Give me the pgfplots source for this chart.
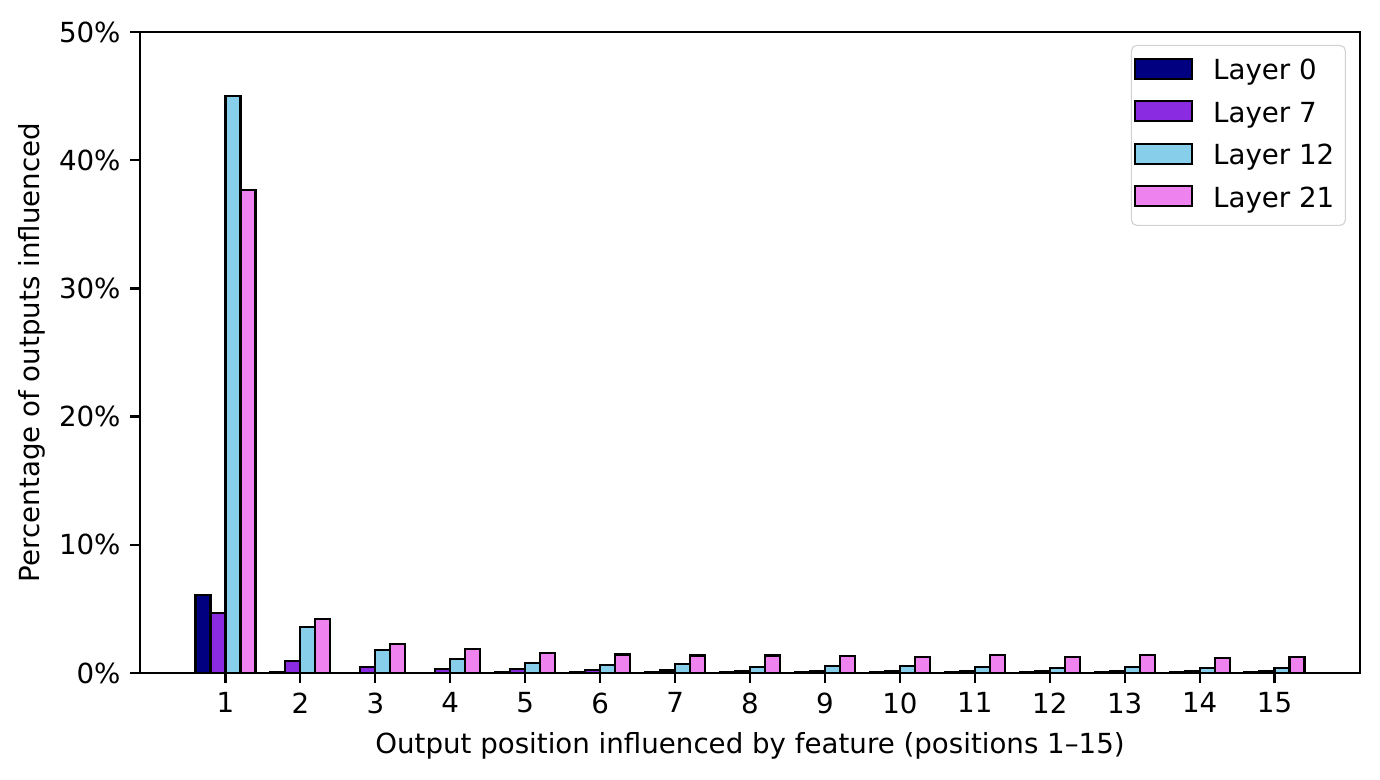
\documentclass[border=0pt]{standalone}
\usepackage{pgfplots}
\pgfplotsset{compat=1.18}
\usepackage{fontspec}
\setmainfont{DejaVu Sans}
\definecolor{lay0}{RGB}{0,0,128}
\definecolor{lay7}{RGB}{138,43,226}
\definecolor{lay12}{RGB}{135,206,235}
\definecolor{lay21}{RGB}{238,130,238}

\begin{document}
\begin{tikzpicture}
\begin{axis}[
  width=6.1in, height=3.205in,
  scale only axis,
  ybar=0pt,
  bar width=0.2,
  xmin=-0.14, xmax=16.14,
  ymin=0, ymax=50,
  xtick={1,2,...,15},
  ytick={0,10,...,50},
  yticklabel={\pgfmathprintnumber{\tick}\%},
  /pgf/number format/assume math mode=true,
  tick align=outside,
  major tick length=3.5pt,
  tick style={black, line width=0.8pt},
  xtick pos=bottom, ytick pos=left,
  axis line style={line width=0.8pt},
  ticklabel style={font=\fontsize{10}{12}\selectfont},
  label style={font=\fontsize{10}{12}\selectfont},
  xlabel={Output position influenced by feature (positions 1–15)},
  ylabel={Percentage of outputs influenced},
  ylabel style={yshift=-2pt},
  every axis plot/.append style={draw=black, line width=0.8pt},
  legend cell align=left,
  legend style={
    at={(0.9885,0.98)}, anchor=north east,
    draw=black!18, rounded corners=2pt,
    font=\fontsize{10}{12}\selectfont,
    row sep=2.5pt, inner xsep=1pt, inner ysep=3pt,
    nodes={inner xsep=3pt},
  },
  legend image code/.code={\draw[#1, sharp corners] (0cm,-0.09cm) rectangle (0.724cm,0.164cm);
    \path (0.87cm,0);},
]
\addplot[fill=lay0] coordinates {
 (1,6.1) (2,0.05) (3,0.03) (4,0.03) (5,0.05) (6,0.05) (7,0.04) (8,0.04)
 (9,0.04) (10,0.04) (11,0.05) (12,0.04) (13,0.04) (14,0.04) (15,0.04)};
\addlegendentry{Layer 0}
\addplot[fill=lay7] coordinates {
 (1,4.7) (2,0.94) (3,0.47) (4,0.3) (5,0.3) (6,0.25) (7,0.2) (8,0.18)
 (9,0.18) (10,0.18) (11,0.18) (12,0.18) (13,0.18) (14,0.12) (15,0.18)};
\addlegendentry{Layer 7}
\addplot[fill=lay12] coordinates {
 (1,45.0) (2,3.56) (3,1.77) (4,1.12) (5,0.78) (6,0.6) (7,0.7) (8,0.45)
 (9,0.55) (10,0.55) (11,0.45) (12,0.38) (13,0.45) (14,0.38) (15,0.38)};
\addlegendentry{Layer 12}
\addplot[fill=lay21] coordinates {
 (1,37.7) (2,4.2) (3,2.24) (4,1.87) (5,1.56) (6,1.45) (7,1.37) (8,1.37)
 (9,1.3) (10,1.22) (11,1.4) (12,1.22) (13,1.4) (14,1.15) (15,1.22)};
\addlegendentry{Layer 21}
\end{axis}
\pgfresetboundingbox
\path[use as bounding box] ([xshift=-0.7in,yshift=-0.535in]current axis.south west)
  rectangle ([xshift=0.1in,yshift=0.16in]current axis.north east);
\end{tikzpicture}
\end{document}
